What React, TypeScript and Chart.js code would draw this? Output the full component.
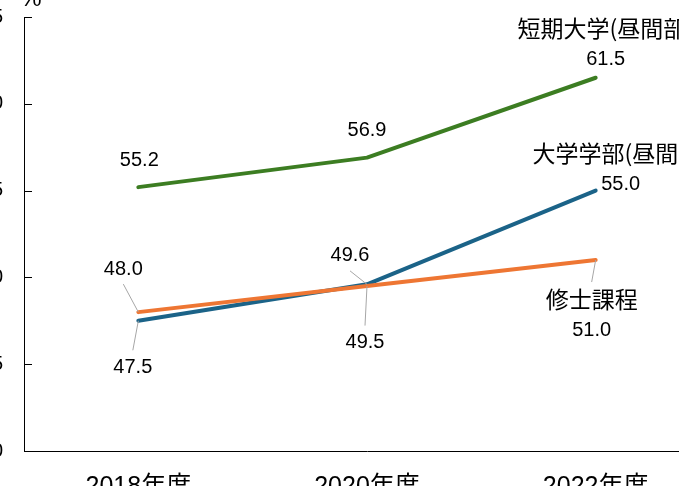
import { useEffect, useRef } from 'react'
import { Chart, registerables } from 'chart.js'
import type { Plugin } from 'chart.js'

Chart.register(...registerables)

const years = ['2018年度', '2020年度', '2022年度']
const juniorCollege = [55.2, 56.9, 61.5]
const undergrad = [47.5, 49.6, 55.0]
const masters = [48.0, 49.5, 51.0]
const seriesNames = ['短期大学(昼間部)', '大学学部(昼間部)', '修士課程']
const yTicks = [40, 45, 50, 55, 60, 65]

// label placement (offset of the value text from its point), per series
const labelOffsets = [
  [[1, -27], [0, -27], [10, -18]],
  [[-5.5, 46.5], [-17, -28.5], [25, -6.5]],
  [[-15, -43], [-2, 56.5], [-4, 70]],
]
const leaders = [
  [false, false, false],
  [true, true, false],
  [true, true, true],
]

const colors = ['#3c7d22', '#1b6388', '#ee7633']
const numFont = "20px 'Liberation Sans', 'Noto Sans CJK JP', sans-serif"
const nameFont = "23px 'Noto Sans CJK JP', sans-serif"
const lineGap = 31

const W = 790
const H = 540

const decorations: Plugin<'line'> = {
  id: 'decorations',
  afterDraw(chart) {
    const { ctx, chartArea } = chart
    const y = chart.scales.y
    ctx.save()
    // inward tick marks on the value axis
    ctx.strokeStyle = '#000'
    ctx.lineWidth = 1
    yTicks.forEach((v) => {
      const py = Math.round(y.getPixelForValue(v)) + 0.5
      ctx.beginPath()
      ctx.moveTo(chartArea.left, py)
      ctx.lineTo(chartArea.left + 8, py)
      ctx.stroke()
    })
    // unit
    ctx.fillStyle = '#000'
    ctx.font = "24px 'Liberation Sans', sans-serif"
    ctx.textAlign = 'center'
    ctx.textBaseline = 'alphabetic'
    ctx.fillText('%', chartArea.left + 7, chartArea.top - 11)

    // data labels
    ctx.textBaseline = 'middle'
    chart.data.datasets.forEach((ds, i) => {
      const meta = chart.getDatasetMeta(i)
      meta.data.forEach((pt, j) => {
        const [dx, dy] = labelOffsets[i][j]
        const cx = pt.x + dx
        const cy = pt.y + dy
        const last = j === meta.data.length - 1
        const topY = last ? cy - lineGap : cy
        if (leaders[i][j]) {
          ctx.strokeStyle = '#a6a6a6'
          ctx.lineWidth = 1
          ctx.beginPath()
          if (pt.y < topY) ctx.moveTo(cx, topY - 17)
          else ctx.moveTo(cx, cy + 15)
          ctx.lineTo(pt.x, pt.y)
          ctx.stroke()
        }
        ctx.fillStyle = '#000'
        if (last) {
          ctx.font = nameFont
          ctx.fillText(seriesNames[i], cx, cy - lineGap)
        }
        ctx.font = numFont
        ctx.fillText((ds.data[j] as number).toFixed(1), cx, cy)
      })
    })
    ctx.restore()
  },
}

export default function App() {
  const canvasRef = useRef<HTMLCanvasElement | null>(null)

  useEffect(() => {
    if (!canvasRef.current) return
    const chart = new Chart(canvasRef.current, {
      type: 'line',
      data: {
        labels: years,
        datasets: [juniorCollege, undergrad, masters].map((data, i) => ({
          label: seriesNames[i],
          data,
          borderColor: colors[i],
          backgroundColor: colors[i],
          borderWidth: 4,
          borderCapStyle: 'round' as const,
          borderJoinStyle: 'round' as const,
          pointRadius: 0,
          tension: 0,
          order: 2 - i,
        })),
      },
      options: {
        responsive: false,
        animation: false,
        devicePixelRatio: 1,
        layout: { padding: { top: 37, right: 20, left: 0, bottom: 0 } },
        plugins: {
          legend: { display: false },
          tooltip: { enabled: false },
        },
        scales: {
          x: {
            offset: true,
            grid: { display: false, drawTicks: false },
            border: { display: true, color: '#000', width: 1 },
            ticks: {
              color: '#000',
              padding: 21,
              font: { family: "'Liberation Sans', 'Noto Sans CJK JP', sans-serif", size: 25 },
            },
            afterFit: (s) => {
              s.height = 69
            },
          },
          y: {
            min: 40,
            max: 65,
            grid: { display: false, drawTicks: false },
            border: { display: true, color: '#000', width: 1 },
            ticks: {
              stepSize: 5,
              color: '#000',
              padding: 21,
              font: { family: "'Liberation Sans', sans-serif", size: 20 },
            },
            afterFit: (s) => {
              s.width = 84
            },
          },
        },
      },
      plugins: [decorations],
    })
    return () => chart.destroy()
  }, [])

  return (
    <div
      style={{
        position: 'fixed',
        left: 0,
        top: 0,
        width: 679,
        height: 486,
        overflow: 'hidden',
        background: '#fff',
      }}
    >
      <div style={{ position: 'absolute', left: -60, top: -20, width: W, height: H }}>
        <canvas ref={canvasRef} width={W} height={H} />
      </div>
    </div>
  )
}
